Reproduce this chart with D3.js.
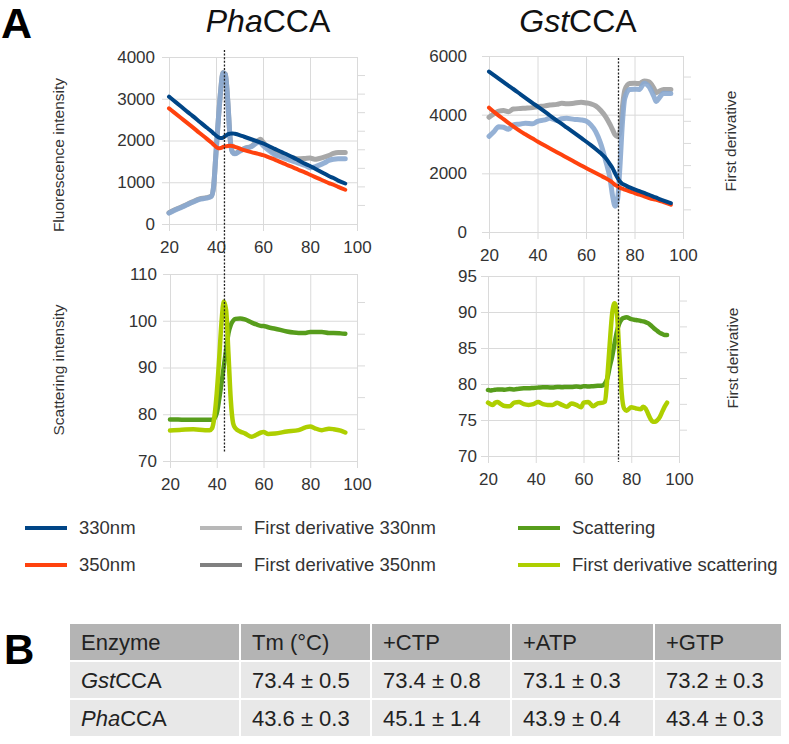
<!DOCTYPE html>
<html><head><meta charset="utf-8">
<script src="https://cdn.jsdelivr.net/npm/d3@7"></script>
<style>body{margin:0;background:#fff;} svg{display:block;font-family:"Liberation Sans",Arial,sans-serif;}</style>
</head><body><svg id="c" width="789" height="744"></svg>
<script>
// ---------- DATA ----------
const xTicks = [20, 40, 60, 80, 100];

// PhaCCA fluorescence
const tempPha = [20,22,25,28,30,33,36,38,39,40,41,42,43,44,45,46,47,48,50,52,55,58,59,60,62,65,68,70,73,75,78,80,82,84,86,88,90,92,95];
const pha330  = [3050,2958,2820,2680,2590,2450,2310,2220,2170,2120,2080,2060,2070,2110,2150,2165,2170,2160,2130,2090,2030,1970,1950,1930,1880,1800,1720,1670,1590,1530,1440,1390,1330,1270,1210,1150,1100,1040,970];
const pha350  = [2770,2680,2545,2410,2320,2180,2045,1950,1900,1850,1815,1820,1845,1860,1870,1875,1870,1850,1810,1770,1720,1680,1665,1650,1610,1540,1470,1420,1350,1300,1230,1180,1130,1080,1030,980,940,890,820];
const phaD330 = [270,330,400,480,530,600,630,670,910,1710,2510,3210,3630,3590,2960,2060,1730,1690,1750,1810,1860,2000,2030,1960,1830,1700,1640,1610,1580,1560,1570,1580,1550,1570,1600,1640,1690,1710,1710];
const phaD350 = [260,320,390,470,520,590,620,660,900,1700,2500,3200,3620,3580,2950,2050,1720,1680,1740,1800,1850,1950,1940,1880,1780,1660,1600,1560,1500,1460,1400,1350,1370,1410,1460,1520,1550,1560,1560];
const phaFluoTicks = [0, 1000, 2000, 3000, 4000];

// GstCCA fluorescence
const tempGst = [20,22,24,26,28,30,33,35,38,40,43,45,48,50,52,55,58,60,62,64,66,68,70,71,72,73,74,75,76,78,80,82,84,86,88,89,90,92,95];
const gst330  = [5470,5350,5230,5110,4990,4875,4695,4575,4395,4280,4100,3980,3800,3685,3565,3385,3205,3085,2960,2830,2690,2530,2300,2170,2000,1850,1720,1640,1600,1520,1450,1390,1330,1270,1200,1170,1130,1070,985];
const gst350  = [4240,4100,3970,3845,3720,3600,3430,3330,3185,3085,2945,2855,2720,2630,2540,2405,2270,2180,2095,2010,1925,1840,1740,1680,1610,1560,1510,1475,1445,1385,1330,1275,1215,1160,1115,1095,1075,1020,930];
const gstD330 = [3910,4030,4120,4140,4100,4190,4210,4220,4240,4270,4300,4330,4350,4390,4370,4390,4420,4400,4370,4300,4150,3940,3650,3480,3310,3250,3400,4250,4840,5060,5070,5060,5150,5120,4900,4750,4790,4860,4860];
const gstD350 = [3260,3420,3590,3570,3500,3650,3680,3710,3690,3770,3820,3880,3800,3860,3880,3840,3820,3780,3650,3420,3030,2460,1780,1210,880,1100,2230,3700,4560,4860,4870,4860,5070,4950,4620,4450,4550,4730,4720];
const gstFluoTicks = [0, 2000, 4000, 6000];

// PhaCCA scattering
const tempPhaS = [20,25,30,35,37,38,39,40,41,42,43,44,45,46,47,48,50,52,55,57,59,60,62,65,70,75,78,80,82,85,88,90,93,95];
const phaScat  = [78.9,78.85,78.8,78.8,78.8,78.8,79.1,80.2,83.1,86.6,90.2,93.7,97.3,99.1,100.0,100.4,100.5,100.3,99.6,99.2,98.9,98.9,98.6,98.3,97.7,97.4,97.4,97.6,97.6,97.6,97.4,97.4,97.3,97.2];
const phaScatD = [76.5,76.7,76.8,76.6,76.6,77.0,79.5,84.5,91.6,99.5,104.1,102.3,93.0,83.1,78.1,77.0,76.3,75.9,75.2,75.6,76.1,76.2,75.8,75.9,76.3,76.6,77.2,77.4,77.0,76.6,76.9,76.8,76.5,76.1];
const phaScatTicks = [70, 80, 90, 100, 110];

// GstCCA scattering
const tempGstS = [20,21,22,23,24,25,27,29,31,33,35,37,39,41,43,45,47,49,51,53,55,57,59,60,62,64,66,68,69,70,71,72,73,74,75,76,77,78,80,82,84,85,86,87,88,89,90,91,92,93,94,95];
const gstScat  = [79.17,79.1,79.15,79.2,79.25,79.25,79.2,79.3,79.25,79.35,79.4,79.4,79.45,79.5,79.55,79.55,79.5,79.6,79.55,79.6,79.6,79.65,79.6,79.7,79.65,79.7,79.75,79.8,80.1,80.8,82.4,83.8,85.6,87.3,88.4,89.0,89.2,89.26,89.0,88.9,88.75,88.7,88.6,88.45,88.2,87.9,87.6,87.35,87.1,86.95,86.8,86.8];
const gstScatD = [77.4,77.2,77.1,77.4,77.5,77.3,76.95,76.9,77.4,77.5,77.2,77.1,77.2,77.5,77.2,77.1,77.1,77.4,77.1,76.85,77.3,77.1,76.76,77.4,77.5,76.9,77.3,77.4,77.55,81.0,85.65,89.8,91.2,89.8,84.3,78.7,76.6,76.3,76.76,76.6,76.5,76.85,76.6,75.9,75.2,74.77,74.77,75.0,75.45,76.16,76.85,77.4];
const gstScatTicks = [70, 75, 80, 85, 90, 95];

// melting temperatures (dotted markers)
const tmPha = 43.6;
const tmGst = 73.4;

// legend
const legendLabels = ["330nm", "350nm", "First derivative 330nm", "First derivative 350nm", "Scattering", "First derivative scattering"];

// table
const tableHeader = ["Enzyme", "Tm (°C)", "+CTP", "+ATP", "+GTP"];
const tableEnzymes = [["Gst", "CCA"], ["Pha", "CCA"]];
const tableValues = [
  ["73.4 ± 0.5", "73.4 ± 0.8", "73.1 ± 0.3", "73.2 ± 0.3"],
  ["43.6 ± 0.3", "45.1 ± 1.4", "43.9 ± 0.4", "43.4 ± 0.3"]
];

// ---------- STYLE ----------
const C = {
  n330: "#004586", n350: "#ff420e",
  d330: "#a8a8a8", d350: "#8aa8d0",
  legD330: "#b8b8b8", legD350: "#808080",
  scat: "#579d1c", scatD: "#aecf00",
  grid: "#dadada", text: "#333333"
};
const FONT = '"Liberation Sans", Arial, sans-serif';
const svg = d3.select("#c");

function panel(cfg) {
  const x = d3.scaleLinear().domain([20, 100]).range([cfg.x0, cfg.x1]);
  const y = d3.scaleLinear().domain(cfg.yDomain).range([cfg.y0, cfg.y1]);
  const w = cfg.x1 - cfg.x0, h = cfg.y0 - cfg.y1;
  const g = svg.append("g");

  const ya = g.append("g").attr("transform", `translate(${cfg.x0 - 7},0)`)
    .call(d3.axisLeft(y).tickValues(cfg.yTicks).tickSizeInner(-(w + 7)).tickSizeOuter(0).tickPadding(cfg.yPad).tickFormat(d3.format("d")));
  const xa = g.append("g").attr("transform", `translate(0,${cfg.y0 + 7})`)
    .call(d3.axisBottom(x).tickValues(xTicks).tickSizeInner(-(h + 7)).tickSizeOuter(0).tickPadding(10).tickFormat(d3.format("d")));
  [ya, xa].forEach(a => {
    a.attr("font-family", FONT).attr("font-size", 17);
    a.select(".domain").remove();
    a.selectAll("line").attr("stroke", C.grid).attr("stroke-width", 1);
    a.selectAll("text").attr("fill", C.text);
  });

  // secondary (derivative) axis: unlabeled ticks on the right
  const yR = d3.scaleLinear().domain([0, cfg.rMax]).range([cfg.y0, cfg.y1]);
  g.selectAll(".rt").data(d3.range(1, Math.floor(cfg.rMax - 0.01) + 1)).enter().append("line")
    .attr("x1", cfg.x1).attr("x2", cfg.x1 + 8)
    .attr("y1", d => yR(d)).attr("y2", d => yR(d))
    .attr("stroke", C.grid).attr("stroke-width", 1);

  cfg.series.forEach(s => {
    const line = d3.line().x((d, i) => x(s.t[i])).y(d => y(d)).curve(d3.curveMonotoneX);
    g.append("path").datum(s.v).attr("d", line)
      .attr("fill", "none").attr("stroke", s.color).attr("stroke-width", s.width)
      .attr("stroke-linejoin", "round").attr("stroke-linecap", "round")
      .attr("opacity", s.opacity || 1);
  });
  return { x, y };
}

const pTL = panel({ x0: 169, x1: 357, y0: 224, y1: 57, yDomain: [0, 4000], yTicks: phaFluoTicks, yPad: 7, rMax: 9,
  series: [
    { t: tempPha, v: phaD330, color: C.d330, width: 5 },
    { t: tempPha, v: phaD350, color: C.d350, width: 5, opacity: 0.9 },
    { t: tempPha, v: pha350, color: C.n350, width: 4 },
    { t: tempPha, v: pha330, color: C.n330, width: 4 }
  ] });
const pTR = panel({ x0: 489, x1: 683, y0: 232, y1: 56, yDomain: [0, 6000], yTicks: gstFluoTicks, yPad: 15, rMax: 7.95,
  series: [
    { t: tempGst, v: gstD330, color: C.d330, width: 5 },
    { t: tempGst, v: gstD350, color: C.d350, width: 5, opacity: 0.9 },
    { t: tempGst, v: gst350, color: C.n350, width: 4 },
    { t: tempGst, v: gst330, color: C.n330, width: 4 }
  ] });
const pBL = panel({ x0: 170, x1: 357, y0: 461, y1: 274, yDomain: [70, 110], yTicks: phaScatTicks, yPad: 6, rMax: 5.9,
  series: [
    { t: tempPhaS, v: phaScat, color: C.scat, width: 4.5 },
    { t: tempPhaS, v: phaScatD, color: C.scatD, width: 4.5 }
  ] });
const pBR = panel({ x0: 488, x1: 679, y0: 456, y1: 276, yDomain: [70, 95], yTicks: gstScatTicks, yPad: 4, rMax: 6.97,
  series: [
    { t: tempGstS, v: gstScat, color: C.scat, width: 4.5 },
    { t: tempGstS, v: gstScatD, color: C.scatD, width: 4.5 }
  ] });

// dotted Tm markers spanning both panels
[[pTL, pBL, tmPha, 50, 453], [pTR, pBR, tmGst, 58, 462]].forEach(([pt, pb, tm, yTop, yBot]) => {
  svg.append("line").attr("x1", pt.x(tm)).attr("x2", pt.x(tm)).attr("y1", yTop).attr("y2", yBot)
    .attr("stroke", "#222").attr("stroke-width", 1.3).attr("stroke-dasharray", "2,1.6");
});

// titles
function italicTitle(xc, yb, it, rest) {
  const t = svg.append("text").attr("x", xc).attr("y", yb).attr("text-anchor", "middle")
    .attr("font-family", FONT).attr("font-size", 32).attr("fill", "#111");
  t.append("tspan").attr("font-style", "italic").text(it);
  t.append("tspan").text(rest);
}
italicTitle(268, 32, "Pha", "CCA");
italicTitle(578, 32, "Gst", "CCA");

svg.append("text").attr("x", 1).attr("y", 38).attr("font-family", FONT).attr("font-weight", "bold").attr("font-size", 43).attr("fill", "#000").text("A");
svg.append("text").attr("x", 4).attr("y", 664).attr("font-family", FONT).attr("font-weight", "bold").attr("font-size", 42).attr("fill", "#000").text("B");

// axis titles
function vLabel(x, y, txt) {
  svg.append("text").attr("transform", `translate(${x},${y}) rotate(-90)`).attr("text-anchor", "middle")
    .attr("font-family", FONT).attr("font-size", 15.5).attr("fill", C.text).text(txt);
}
vLabel(64, 155, "Fluorescence intensity");
vLabel(64, 370, "Scattering intensity");
vLabel(736, 141, "First derivative");
vLabel(738, 358, "First derivative");

// legend
const legColors = [C.n330, C.n350, C.legD330, C.legD350, C.scat, C.scatD];
const legX = [25, 25, 200, 200, 518, 518];
const legY = [528, 565, 528, 565, 528, 565];
legendLabels.forEach((lab, i) => {
  svg.append("line").attr("x1", legX[i]).attr("x2", legX[i] + 42).attr("y1", legY[i]).attr("y2", legY[i])
    .attr("stroke", legColors[i]).attr("stroke-width", 4);
  svg.append("text").attr("x", legX[i] + 54).attr("y", legY[i] + 6).attr("font-family", FONT)
    .attr("font-size", 18.5).attr("fill", C.text).text(lab);
});

// table
const colX = [69, 240, 371, 511, 654, 782];
const rowY = [623, 661, 699, 737];
const tg = svg.append("g");
for (let r = 0; r < 3; r++) {
  for (let c = 0; c < 5; c++) {
    tg.append("rect").attr("x", colX[c]).attr("y", rowY[r]).attr("width", colX[c + 1] - colX[c]).attr("height", rowY[r + 1] - rowY[r])
      .attr("fill", r === 0 ? "#b4b4b4" : "#e8e8e8").attr("stroke", "#fff").attr("stroke-width", 2);
    const t = tg.append("text").attr("x", colX[c] + 12).attr("y", (rowY[r] + rowY[r + 1]) / 2 + 8)
      .attr("font-family", FONT).attr("font-size", 22).attr("fill", "#222");
    if (r === 0) t.text(tableHeader[c]);
    else if (c === 0) {
      t.append("tspan").attr("font-style", "italic").text(tableEnzymes[r - 1][0]);
      t.append("tspan").text(tableEnzymes[r - 1][1]);
    } else t.text(tableValues[r - 1][c - 1]);
  }
}
</script></body></html>
